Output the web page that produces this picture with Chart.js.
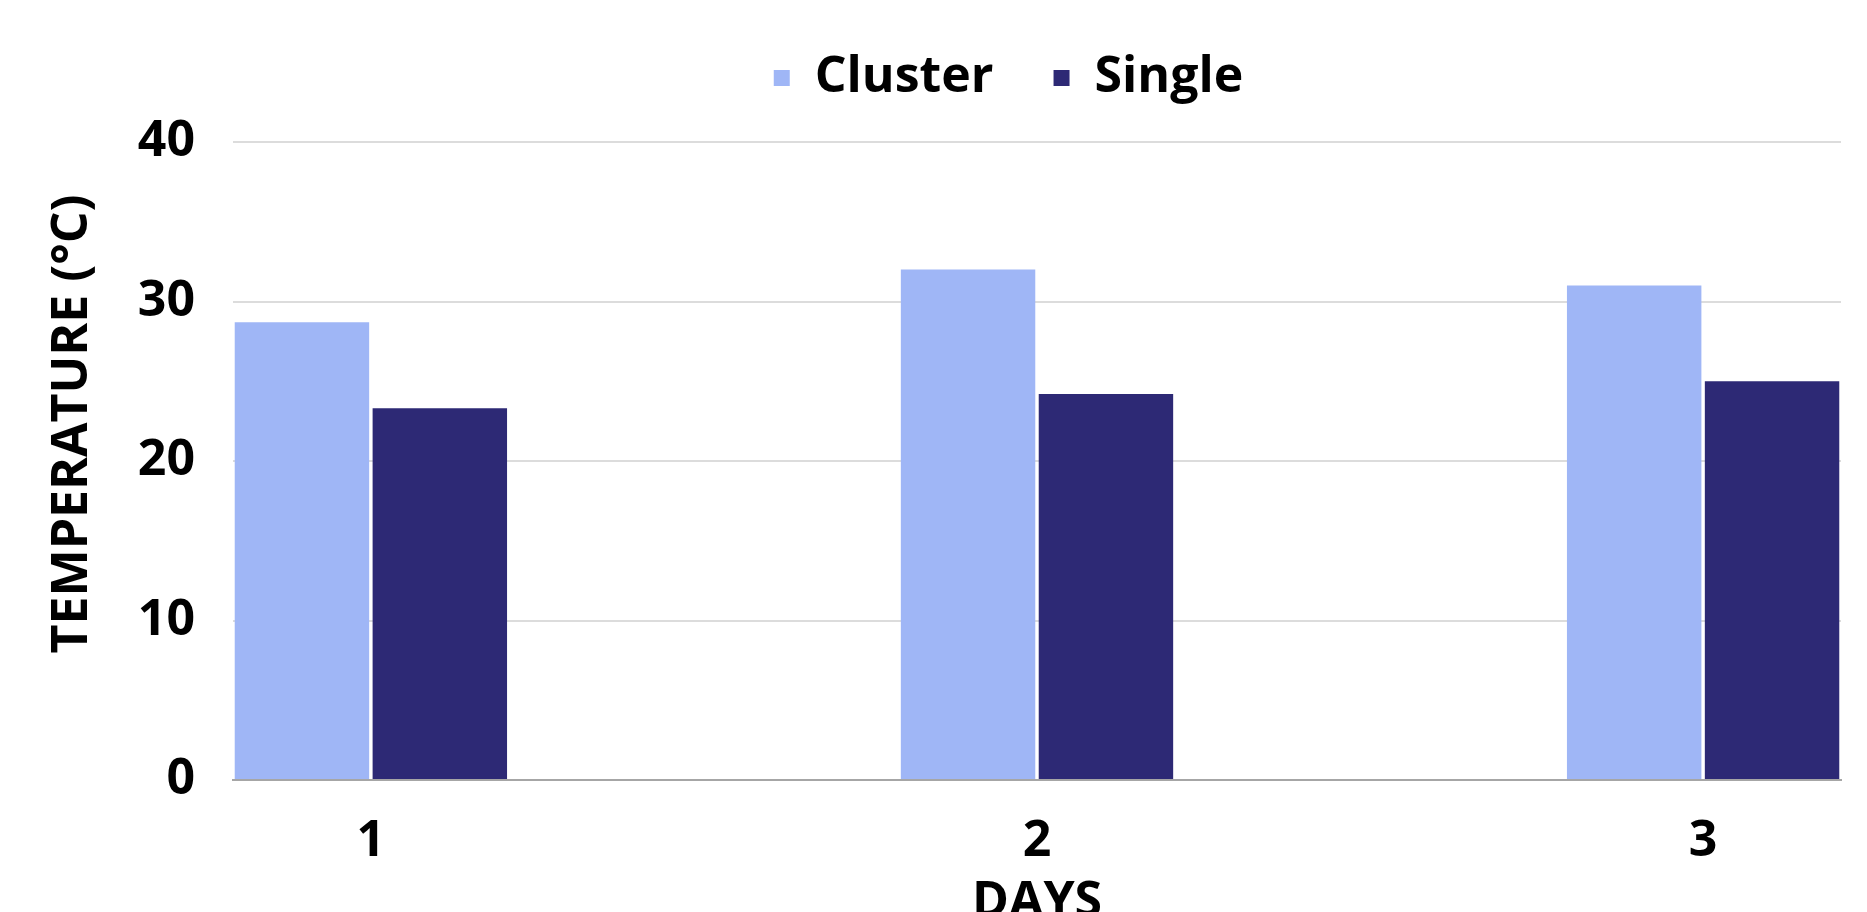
<!DOCTYPE html>
<html>
<head>
<meta charset="utf-8">
<script src="https://cdn.jsdelivr.net/npm/chart.js@4.4.1/dist/chart.umd.min.js"></script>
<style>
  html, body { margin: 0; padding: 0; background: #ffffff; overflow: hidden; }
  #wrap { position: relative; width: 1867px; height: 950px; }
</style>
</head>
<body>
<div id="wrap"><canvas id="chart"></canvas></div>
<script>
// Day labels and measured temperatures (°C)
const days = ['1', '2', '3'];
const clusterTemps = [28.7, 32.0, 31.0];
const singleTemps = [23.3, 24.2, 25.0];
const yTicks = [0, 10, 20, 30, 40];
const yTitle = 'TEMPERATURE (°C)';
const xTitle = 'DAYS';

const FONT = "'Open Sans', 'Noto Sans', sans-serif";
const FSIZE = 50;

// Day positions on a numeric axis so the first/last groups sit flush with the plot edges
const dayPos = days.map((d, i) => i + 1);
const edge = 0.207;

const toPoints = (vals) => vals.map((v, i) => ({ x: dayPos[i], y: v }));

// Extra room under the legend, and a nudge of the legend row
const legendLayout = {
  id: 'legendLayout',
  beforeInit(chart) {
    const fit = chart.legend.fit;
    chart.legend.fit = function () {
      fit.call(this);
      this.height += 22;
    };
  },
  afterLayout(chart) {
    const lg = chart.legend;
    const dx = 88, dy = -7;
    lg.left += dx; lg.right += dx;
    lg.top += dy; lg.bottom += dy;
  }
};

// Vertical axis title, drawn beside the tick labels
const yAxisTitle = {
  id: 'yAxisTitle',
  afterDraw(chart) {
    const ctx = chart.ctx;
    const cx = 69, cy = 424;
    ctx.save();
    ctx.font = `bold ${FSIZE}px ${FONT}`;
    ctx.fillStyle = '#000000';
    ctx.textAlign = 'center';
    ctx.textBaseline = 'alphabetic';
    ctx.translate(cx + FSIZE * 0.357, cy);
    ctx.rotate(-Math.PI / 2);
    ctx.fillText(yTitle, 0, 0);
    ctx.restore();
  }
};

new Chart(document.getElementById('chart'), {
  type: 'bar',
  data: {
    datasets: [
      {
        label: 'Cluster',
        data: toPoints(clusterTemps),
        backgroundColor: '#9fb6f6',
        borderWidth: 0,
        categoryPercentage: 0.414,
        barPercentage: 0.975
      },
      {
        label: 'Single',
        data: toPoints(singleTemps),
        backgroundColor: '#2d2975',
        borderWidth: 0,
        categoryPercentage: 0.414,
        barPercentage: 0.975
      }
    ]
  },
  plugins: [legendLayout, yAxisTitle],
  options: {
    responsive: true,
    maintainAspectRatio: false,
    animation: false,
    layout: { padding: { left: 0, right: 26, top: 0, bottom: 17 } },
    plugins: {
      tooltip: { enabled: false },
      legend: {
        position: 'top',
        align: 'center',
        labels: {
          color: '#000000',
          font: { family: FONT, size: FSIZE, weight: 'bold' },
          boxWidth: 16,
          boxHeight: 16,
          padding: 60
        }
      }
    },
    scales: {
      x: {
        type: 'linear',
        offset: false,
        min: dayPos[0] - edge,
        max: dayPos[dayPos.length - 1] + edge,
        afterBuildTicks: (axis) => { axis.ticks = dayPos.map(v => ({ value: v })); },
        grid: { display: false, drawTicks: false },
        border: { display: true, color: '#a6a6a6', width: 2 },
        ticks: {
          color: '#000000',
          font: { family: FONT, size: FSIZE, weight: 'bold' },
          padding: 32,
          maxRotation: 0,
          callback: (v) => days[dayPos.indexOf(v)] ?? ''
        },
        title: {
          display: true,
          text: xTitle,
          color: '#000000',
          font: { family: FONT, size: FSIZE, weight: 'bold' },
          padding: { top: -31, bottom: 0 }
        }
      },
      y: {
        min: 0,
        max: 40,
        afterBuildTicks: (axis) => { axis.ticks = yTicks.map(v => ({ value: v })); },
        afterFit: (axis) => { axis.width = 233; },
        grid: { color: '#dcdcdc', lineWidth: 2, drawTicks: false },
        border: { display: false },
        ticks: {
          color: '#000000',
          font: { family: FONT, size: FSIZE, weight: 'bold' },
          padding: 38
        }
      }
    }
  }
});
</script>
</body>
</html>
